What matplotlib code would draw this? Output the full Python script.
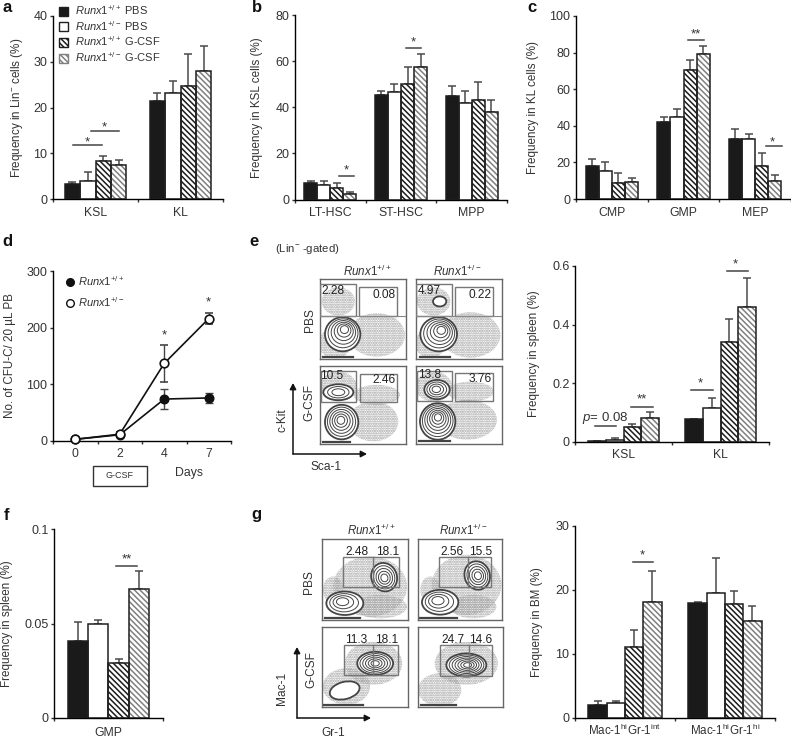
import numpy as np
import matplotlib
matplotlib.use("Agg")
import matplotlib.pyplot as plt
from matplotlib.patches import Ellipse, Rectangle, FancyArrowPatch, Patch
from matplotlib.lines import Line2D

W, H = 791, 741
plt.rcParams.update({
    "font.family": "Liberation Sans", "font.size": 8.6, "text.color": "#333333",
    "axes.labelcolor": "#333333", "xtick.color": "#333333", "ytick.color": "#333333",
    "mathtext.fontset": "custom", "mathtext.rm": "Liberation Sans",
    "mathtext.it": "Liberation Sans:italic", "mathtext.bf": "Liberation Sans:bold",
    "hatch.linewidth": 1.1, "axes.linewidth": 1.0,
})
WT = r"$\mathit{Runx1}^{+/+}$"
HET = r"$\mathit{Runx1}^{+/-}$"

# ---------- bar data: means and error-bar tops ----------
a_cats = ["KSL", "KL"]
a_means = [[3.2, 4.0, 8.3, 7.5], [21.4, 23.2, 24.8, 28.0]]
a_tops = [[3.8, 5.9, 9.4, 8.6], [23.2, 25.8, 31.8, 33.5]]
a_sig = [(0.234, 0.574, 11.8, "*", 0.40, 12.4), (0.445, 0.781, 14.8, "*", 0.605, 15.7)]

b_cats = ["LT-HSC", "ST-HSC", "MPP"]
b_means = [[7.0, 6.2, 5.2, 2.6], [45.2, 46.7, 50.0, 57.5], [45.0, 42.0, 43.0, 38.0]]
b_tops = [[8.2, 8.2, 7.2, 3.3], [47.0, 50.0, 57.3, 63.0], [49.0, 47.2, 50.8, 43.2]]
b_sig = [(0.627, 0.838, 10.2, "*", 0.73, 12.5), (1.565, 1.78, 65.5, "*", 1.67, 68.0)]

c_cats = ["CMP", "GMP", "MEP"]
c_means = [[18.0, 15.5, 9.0, 9.3], [42.2, 45.0, 70.3, 79.5], [33.0, 33.0, 18.0, 10.0]]
c_tops = [[21.7, 20.0, 14.0, 11.3], [45.0, 49.0, 76.0, 83.7], [38.5, 35.5, 25.0, 13.0]]
c_sig = [(1.567, 1.79, 87.1, "**", 1.675, 90.0), (2.65, 2.875, 28.7, "*", 2.74, 31.0)]

e_cats = ["KSL", "KL"]
e_means = [[0.003, 0.008, 0.05, 0.083], [0.078, 0.115, 0.34, 0.46]]
e_tops = [[0.004, 0.013, 0.062, 0.103], [0.08, 0.15, 0.42, 0.56]]
e_sig = [(0.203, 0.426, 0.053, r"$\mathit{p}$= 0.08", 0.31, 0.082),
         (0.58, 0.804, 0.119, "**", 0.694, 0.144),
         (1.2, 1.423, 0.176, "*", 1.295, 0.199),
         (1.567, 1.787, 0.583, "*", 1.656, 0.605)]

f_cats = ["GMP"]
f_means = [[0.041, 0.05, 0.029, 0.068]]
f_tops = [[0.051, 0.052, 0.031, 0.078]]
f_sig = [(0.568, 0.766, 0.0806, "**", 0.666, 0.084)]

g_cats = [r"Mac-1$^{\mathrm{hi}}$Gr-1$^{\mathrm{int}}$", r"Mac-1$^{\mathrm{hi}}$Gr-1$^{\mathrm{hi}}$"]
g_means = [[2.1, 2.4, 11.1, 18.2], [18.0, 19.5, 17.8, 15.2]]
g_tops = [[2.7, 2.7, 13.7, 23.0], [18.1, 25.0, 19.9, 17.5]]
g_sig = [(0.575, 0.784, 24.4, "*", 0.67, 25.4)]

# ---------- line data ----------
d_days = ["0", "2", "4", "7"]
d_wt = [3, 11, 74, 76]
d_wt_err = [2, 3, 17, 9]
d_het = [3, 12, 137, 216]
d_het_err = [2, 3, 33, 10]

# bar look: face, hatch colour, hatch
styles = [("#1a1a1a", None, None), ("white", None, None),
          ("white", "#1c1c1c", "\\" * 6), ("white", "#808080", "\\" * 6)]
group_labels = [WT + " PBS", HET + " PBS", WT + " G-CSF", HET + " G-CSF"]

fig = plt.figure(figsize=(W / 100, H / 100), dpi=100, facecolor="white")


def add_px(l, r, top, bottom):
    return fig.add_axes([l / W, 1 - bottom / H, (r - l) / W, (bottom - top) / H])


def ftext(x, y, s, **kw):
    kw.setdefault("ha", "center")
    kw.setdefault("va", "center")
    return fig.text(x / W, 1 - y / H, s, **kw)


def style_axes(ax, ylabel, label_x, yticks, yticklabels=None):
    for s in ("top", "right"):
        ax.spines[s].set_visible(False)
    ax.set_yticks(yticks)
    if yticklabels:
        ax.set_yticklabels(yticklabels)
    ax.tick_params(length=2.5, width=1, pad=1.5, labelsize=9)
    bb = ax.get_position()
    ax.set_ylabel(ylabel, fontsize=8.4, va="center")
    ax.yaxis.set_label_coords((label_x / W - bb.x0) / bb.width, 0.5)


def bar_panel(rect, cats, means, tops, sig, ymax, yticks, ylabel, label_x, width=0.183,
              yticklabels=None, catsize=8.8, catpad=-10):
    ax = add_px(*rect)
    n = len(cats)
    ax.set_xlim(0, n)
    ax.set_ylim(0, ymax)
    for i in range(n):
        m, t = np.array(means[i]), np.array(tops[i])
        xs = i + 0.5 + (np.arange(4) - 1.5) * width
        for j, (face, hc, ht) in enumerate(styles):
            if ht:
                ax.bar(xs[j], m[j], width, color=face, edgecolor=hc, hatch=ht, lw=0, zorder=2)
            else:
                ax.bar(xs[j], m[j], width, color=face, lw=0, zorder=2)
            ax.bar(xs[j], m[j], width, fill=False, edgecolor="#1f1f1f", lw=1.1, zorder=3)
        ax.errorbar(xs, m, yerr=[np.zeros(4), t - m], fmt="none", ecolor="#4a4a4a",
                    elinewidth=1.1, capsize=2.6, capthick=1.1, zorder=1)
    ax.set_xticks(range(n + 1))
    ax.set_xticklabels([""] * (n + 1))
    for i, c in enumerate(cats):
        ax.annotate(c, (i + 0.5, 0), xytext=(0, catpad), textcoords="offset points",
                    ha="center", va="center", fontsize=catsize, annotation_clip=False)
    for x0, x1, y, lab, xl, yl in sig:
        ax.plot([x0, x1], [y, y], color="#444444", lw=1.1, clip_on=False, zorder=4)
        ax.text(xl, yl, lab, ha="center", va="center", fontsize=9.5, clip_on=False, color="#333333")
    style_axes(ax, ylabel, label_x, yticks, yticklabels)
    return ax


ax_a = bar_panel((53, 223, 16, 199), a_cats, a_means, a_tops, a_sig, 40, [0, 10, 20, 30, 40],
                 "Frequency in Lin$^{-}$ cells (%)", 17, width=0.181)
bar_panel((295, 507, 15, 199.5), b_cats, b_means, b_tops, b_sig, 80, [0, 20, 40, 60, 80],
          "Frequency in KSL cells (%)", 257, width=0.185)
bar_panel((576, 791, 16, 199), c_cats, c_means, c_tops, c_sig, 100, [0, 20, 40, 60, 80, 100],
          "Frequency in KL cells (%)", 533)
bar_panel((575, 769, 266, 442), e_cats, e_means, e_tops, e_sig, 0.6, [0, 0.2, 0.4, 0.6],
          "Frequency in spleen (%)", 534, width=0.184, yticklabels=["0", "0.2", "0.4", "0.6"], catpad=-9.5)
bar_panel((54, 163, 529, 718), f_cats, f_means, f_tops, f_sig, 0.1, [0, 0.05, 0.1],
          "Frequency in spleen (%)", 7, width=0.184, yticklabels=["0", "0.05", "0.1"], catpad=-10.5)
bar_panel((575, 775, 526, 718), g_cats, g_means, g_tops, g_sig, 30, [0, 10, 20, 30],
          "Frequency in BM (%)", 537, catsize=8.4, catpad=-9)

# legend of panel a
handles = []
for (face, hc, ht), lab in zip(styles, group_labels):
    handles.append(Patch(facecolor=face, edgecolor=hc if ht else "#1f1f1f", hatch=ht, lw=1.0, label=lab))
ax_a.legend(handles=handles, loc="upper left", bbox_to_anchor=(6 / 170, 1.07), frameon=False,
            fontsize=8.0, handlelength=0.85, handleheight=0.85, handletextpad=0.55,
            labelspacing=0.17, borderpad=0, borderaxespad=0)

# ---------- panel d ----------
ax_d = add_px(53, 231, 271, 441)
xpos = np.arange(4) + 0.5
ax_d.set_xlim(0, 4)
ax_d.set_ylim(0, 300)
ax_d.errorbar(xpos, d_wt, yerr=d_wt_err, color="#111111", marker="o", ms=6.2, mfc="#111111", mec="#111111",
              lw=1.2, elinewidth=1.0, ecolor="#444444", capsize=2.6, clip_on=False, zorder=3)
ax_d.errorbar(xpos, d_het, yerr=d_het_err, color="#111111", marker="o", ms=6.2, mfc="white", mec="#111111",
              mew=1.2, lw=1.2, elinewidth=1.0, ecolor="#444444", capsize=2.6, clip_on=False, zorder=4)
ax_d.set_xticks(range(5))
ax_d.set_xticklabels([""] * 5)
for x, lab in zip(xpos, d_days):
    ax_d.annotate(lab, (x, 0), xytext=(0, -9.5), textcoords="offset points", ha="center", va="center",
                  fontsize=8.8, annotation_clip=False)
style_axes(ax_d, "No. of CFU-C/ 20 µL PB", 10, [0, 100, 200, 300])
ax_d.text(2.5, 187, "*", ha="center", va="center", fontsize=9.5)
ax_d.text(3.5, 245, "*", ha="center", va="center", fontsize=9.5)
ax_d.legend(handles=[
    Line2D([], [], ls="none", marker="o", ms=5.5, mfc="#111111", mec="#111111", label=WT),
    Line2D([], [], ls="none", marker="o", ms=5.5, mfc="white", mec="#111111", label=HET)],
    loc="upper left", bbox_to_anchor=(0.065, 0.98), frameon=False, fontsize=8.0, handlelength=1.0,
    handletextpad=0.2, labelspacing=0.6, borderpad=0, borderaxespad=0)
fig.add_artist(Rectangle((93 / W, 1 - 486 / H), 54 / W, 20 / H, transform=fig.transFigure,
                         fill=False, ec="#333333", lw=1))
ftext(120, 476, "G-CSF", fontsize=6.5)
ftext(189, 473, "Days", fontsize=8.8)

# ---------- flow cytometry panels: everything below is in zoomed-reference units ----------
e_panels = [
    dict(lim=(150, 408, 357, 118), gates=[(150, 133, 257, 228), (268, 143, 382, 228)], hline=228,
         labels=[("2.28", 190, 153), ("0.08", 343, 165)],
         clouds=[(205, 185, 50, 42, 0), (320, 285, 85, 65, 0), (195, 310, 50, 45, 0)],
         blobs=[(218, 283, 53, 51, 0, 6, 225, 265)], strip=(160, 250, 350)),
    dict(lim=(437, 695, 357, 118), gates=[(437, 133, 545, 228), (553, 143, 667, 228)], hline=228,
         labels=[("4.97", 478, 155), ("0.22", 628, 165)],
         clouds=[(490, 185, 50, 42, 0), (600, 285, 90, 68, 0), (480, 310, 45, 45, 0)],
         blobs=[(508, 185, 20, 15, 0, 1, 508, 185), (505, 283, 55, 51, 0, 6, 515, 268)], strip=(450, 540, 350)),
    dict(lim=(150, 408, 613, 378), gates=[(153, 392, 258, 487), (270, 402, 382, 487)], hline=None,
         labels=[("10.5", 185, 407), ("2.46", 343, 420)],
         clouds=[(205, 440, 55, 45, 0), (320, 465, 70, 30, 0), (310, 545, 75, 60, 0)],
         blobs=[(205, 457, 45, 24, 0, 3, 205, 457), (215, 547, 50, 52, 0, 6, 212, 540)], strip=(160, 240, 606)),
    dict(lim=(437, 695, 613, 378), gates=[(440, 392, 545, 482), (553, 400, 667, 482)], hline=None,
         labels=[("13.8", 478, 405), ("3.76", 630, 418)],
         clouds=[(490, 440, 55, 45, 0), (600, 455, 70, 30, 0), (590, 540, 90, 60, 0)],
         blobs=[(500, 449, 38, 29, 0, 4, 497, 448), (502, 545, 53, 55, 0, 7, 503, 530)], strip=(445, 540, 605)),
]
g_panels = [
    dict(lim=(157, 413, 360, 118), box=(220, 172, 385, 262), div=308,
         labels=[("2.48", 260, 157), ("18.1", 352, 157)],
         clouds=[(300, 260, 110, 90, 0), (330, 320, 80, 35, 0), (190, 270, 30, 40, 0)],
         blobs=[(225, 310, 55, 35, 0, 4, 215, 303), (342, 232, 38, 43, -20, 5, 343, 235)], strip=(165, 270, 353)),
    dict(lim=(443, 697, 360, 118), box=(505, 172, 665, 262), div=593,
         labels=[("2.56", 545, 157), ("15.5", 632, 157)],
         clouds=[(590, 255, 105, 90, 0), (610, 320, 70, 35, 0), (480, 270, 30, 40, 0)],
         blobs=[(510, 307, 55, 37, 0, 4, 500, 300), (622, 227, 38, 43, -20, 5, 625, 228)], strip=(450, 560, 353)),
    dict(lim=(158, 412, 622, 380), box=(222, 433, 382, 525), div=310,
         labels=[("11.3", 260, 418), ("18.1", 350, 418)],
         clouds=[(310, 490, 85, 65, 0), (230, 560, 70, 55, 0)],
         blobs=[(315, 490, 53, 35, 0, 6, 315, 490), (225, 572, 45, 26, -15, 1, 225, 572)], strip=(165, 280, 616)),
    dict(lim=(445, 700, 622, 380), box=(510, 433, 668, 528), div=597,
         labels=[("24.7", 550, 418), ("14.6", 632, 418)],
         clouds=[(590, 490, 95, 65, 0), (510, 570, 65, 50, 0)],
         blobs=[(590, 495, 60, 35, 0, 7, 595, 495)], strip=(455, 560, 616)),
]
e_rects = [(320, 406, 279, 359), (416, 502, 279, 359), (320, 406, 366, 444), (416, 502, 366, 444)]
g_rects = [(322, 408, 539, 620), (418, 502, 539, 620), (322, 408, 627, 707), (418, 503, 627, 707)]


def flow(rect, p):
    ax = add_px(*rect)
    x0, x1, y0, y1 = p["lim"]
    ax.set_xlim(x0, x1)
    ax.set_ylim(y0, y1)
    ax.set_xticks([])
    ax.set_yticks([])
    for s in ax.spines.values():
        s.set_color("#666666")
        s.set_linewidth(1.0)
    for cx, cy, rx, ry, ang in p["clouds"]:
        ax.add_patch(Ellipse((cx, cy), 2 * rx, 2 * ry, angle=ang, facecolor="none", edgecolor="#a0a0a0",
                             hatch="." * 7, lw=0, zorder=1))
    a, b, y = p["strip"]
    ax.plot([a, b], [y, y], color="#444444", lw=1.6, zorder=2)
    for cx, cy, rx, ry, ang, rings, ix, iy in p["blobs"]:
        for k in range(rings):
            t = k / (rings + 0.5)
            ax.add_patch(Ellipse((cx + (ix - cx) * t, cy + (iy - cy) * t), 2 * rx * (1 - t), 2 * ry * (1 - t),
                                 angle=ang, facecolor="white", edgecolor="#444444",
                                 lw=1.3 if k == 0 else 0.7, zorder=3 + k))
    if "gates" in p:
        for gx0, gy0, gx1, gy1 in p["gates"]:
            ax.add_patch(Rectangle((gx0, gy0), gx1 - gx0, gy1 - gy0, fill=False, ec="#777777", lw=1, zorder=20))
        if p["hline"]:
            ax.plot([x0, x1], [p["hline"]] * 2, color="#888888", lw=0.8, zorder=20)
    if "box" in p:
        gx0, gy0, gx1, gy1 = p["box"]
        ax.add_patch(Rectangle((gx0, gy0), gx1 - gx0, gy1 - gy0, fill=False, ec="#777777", lw=1, zorder=20))
        ax.plot([p["div"]] * 2, [gy0, gy1], color="#777777", lw=1, zorder=20)
    for s, x, y in p["labels"]:
        ax.text(x, y, s, ha="center", va="center", fontsize=8.6, zorder=30, color="#222222", clip_on=False)


for rect, p in zip(e_rects, e_panels):
    flow(rect, p)
for rect, p in zip(g_rects, g_panels):
    flow(rect, p)

ftext(307, 249, r"(Lin$^{-}$ -gated)", fontsize=8.2)
ftext(367, 271, WT, fontsize=8.4)
ftext(457, 271, HET, fontsize=8.4)
ftext(310, 320, "PBS", rotation=90, fontsize=8.6)
ftext(309, 403, "G-CSF", rotation=90, fontsize=8.6)
ftext(283, 420, "c-Kit", rotation=90, fontsize=8.6)
ftext(326, 467, "Sca-1", fontsize=8.6)
ftext(371, 530, WT, fontsize=8.4)
ftext(463, 530, HET, fontsize=8.4)
ftext(309, 582, "PBS", rotation=90, fontsize=8.6)
ftext(311, 670, "G-CSF", rotation=90, fontsize=8.6)
ftext(282, 688, "Mac-1", rotation=90, fontsize=8.6)
ftext(333, 733, "Gr-1", fontsize=8.6)

# axis arrows beside the flow panels
for ox, oy, tipx, tipy in [(293, 454, 367, 383), (297, 718, 371, 647)]:
    for dx, dy in [(tipx - ox, 0), (0, tipy - oy)]:
        fig.add_artist(FancyArrowPatch(
            (ox / W, 1 - oy / H), ((ox + dx) / W, 1 - (oy + dy) / H), transform=fig.transFigure,
            arrowstyle="-|>,head_length=3.6,head_width=1.9", color="#111111", lw=1.1, shrinkA=0, shrinkB=0))

# panel letters
for s, x, y in [("a", 7, 8), ("b", 257, 8), ("c", 532, 8), ("d", 7, 241), ("e", 254, 241),
                ("f", 6, 515), ("g", 256, 515)]:
    ftext(x, y, s, fontsize=12, fontweight="bold", color="#111111")

fig.savefig("out.png", dpi=100)
